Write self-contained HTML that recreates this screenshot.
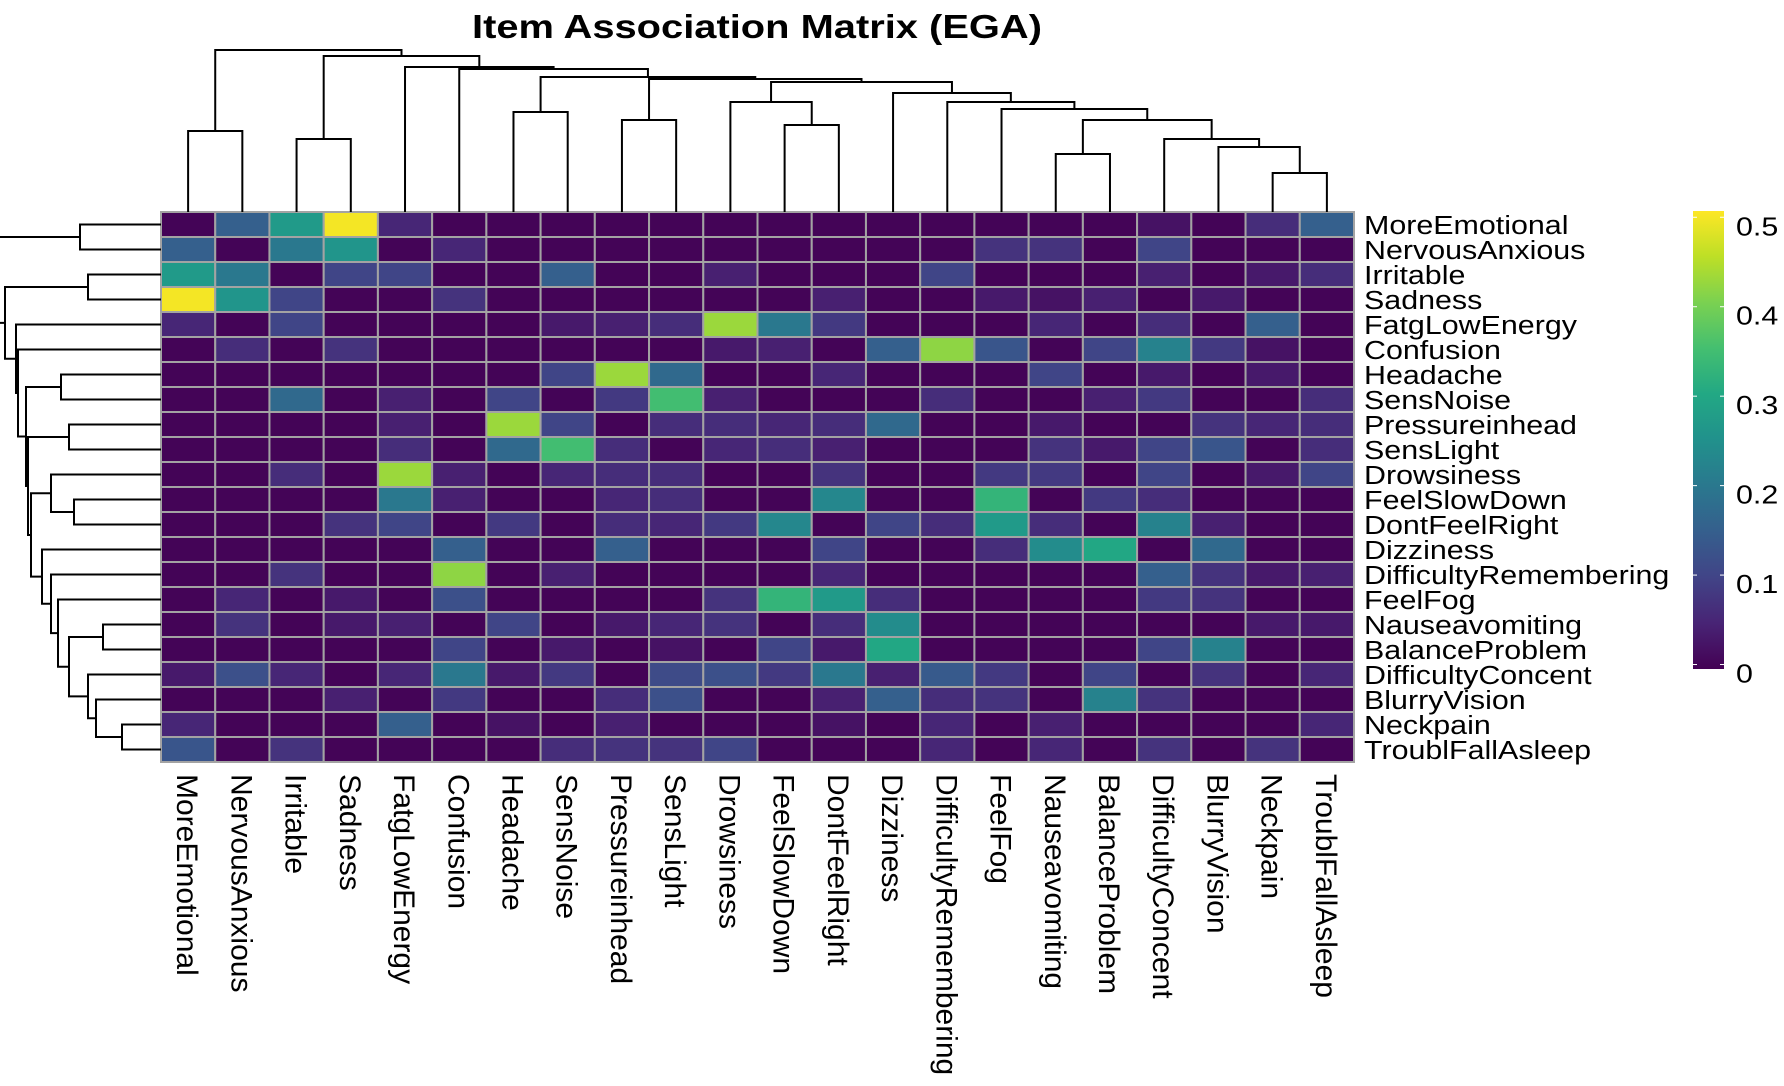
<!DOCTYPE html>
<html><head><meta charset="utf-8"><title>Item Association Matrix (EGA)</title>
<style>
html,body{margin:0;padding:0;background:#fff;}
svg{display:block;font-family:"Liberation Sans",Arial,sans-serif;}
</style></head>
<body>
<svg id="chart" width="1784" height="1086" viewBox="0 0 1784 1086" xmlns="http://www.w3.org/2000/svg">
<defs>
<linearGradient id="viridis" x1="0" y1="1" x2="0" y2="0">
<stop offset="0" stop-color="#440154"/><stop offset="0.1" stop-color="#482475"/><stop offset="0.2" stop-color="#414487"/><stop offset="0.3" stop-color="#355f8d"/><stop offset="0.4" stop-color="#2a788e"/><stop offset="0.5" stop-color="#21918c"/><stop offset="0.6" stop-color="#22a884"/><stop offset="0.7" stop-color="#44bf70"/><stop offset="0.8" stop-color="#7ad151"/><stop offset="0.9" stop-color="#bddf26"/><stop offset="1" stop-color="#fde725"/>
</linearGradient>
</defs>
<text x="757" y="38" text-anchor="middle" font-size="33" font-weight="bold" textLength="570" lengthAdjust="spacingAndGlyphs">Item Association Matrix (EGA)</text>
<g id="cells"></g>
<g id="rowlabels"></g>
<g id="collabels"></g>
<g id="topdendro" stroke="#000" stroke-width="2" fill="none"></g>
<g id="leftdendro" stroke="#000" stroke-width="2" fill="none"></g>
<g id="colorbar">
<rect x="1693" y="211" width="31" height="458" fill="url(#viridis)"/>
</g>
</svg>
<script>
const items = ["MoreEmotional","NervousAnxious","Irritable","Sadness","FatgLowEnergy","Confusion","Headache","SensNoise","Pressureinhead","SensLight","Drowsiness","FeelSlowDown","DontFeelRight","Dizziness","DifficultyRemembering","FeelFog","Nauseavomiting","BalanceProblem","DifficultyConcent","BlurryVision","Neckpain","TroublFallAsleep"];
const row0 = [0,.15,.27,.5,.05,0,0,0,0,0,0,0,0,0,0,0,0,0,.02,0,.06,.15];
const row1 = [.15,0,.2,.26,0,.05,0,0,0,0,0,0,0,0,0,.07,.07,0,.1,0,0,0];
const row2 = [.27,.2,0,.1,.1,0,0,.15,0,0,.04,0,0,0,.1,0,0,0,.04,0,.03,.06];
const row3 = [.5,.26,.1,0,0,.07,0,0,0,0,0,0,.04,0,0,.03,.02,.04,0,.03,0,0];
const row4 = [.05,0,.1,0,0,0,0,.03,.04,.06,.43,.2,.08,0,0,0,.05,0,.06,0,.15,0];
const row5 = [0,.06,0,.07,0,0,0,0,0,0,.03,.04,0,.15,.42,.13,0,.1,.22,.08,.02,0];
const row6 = [0,0,0,0,0,0,0,.1,.43,.17,0,0,.05,0,0,0,.1,0,.03,0,.03,0];
const row7 = [0,0,.17,0,.04,0,.1,0,.08,.35,.04,0,0,0,.06,0,0,.04,.08,0,0,.06];
const row8 = [0,0,0,0,.04,0,.43,.1,0,.06,.06,.05,.06,.17,0,0,.03,0,0,.07,.05,.06];
const row9 = [0,0,0,0,.06,0,.17,.35,.06,0,.05,.06,.04,0,0,0,.07,.03,.1,.13,0,.06];
const row10 = [0,0,.06,0,.43,.04,0,.05,.06,.06,0,0,.07,0,0,.08,.08,0,.1,0,.03,.1];
const row11 = [0,0,0,0,.2,.04,0,0,.05,.06,0,0,.23,0,0,.33,0,.08,.06,0,0,0];
const row12 = [0,0,0,.07,.1,0,.08,0,.06,.05,.08,.23,0,.1,.06,.27,.06,0,.22,.04,0,0];
const row13 = [0,0,0,0,0,.15,0,0,.15,0,0,0,.1,0,0,.06,.24,.3,0,.17,0,0];
const row14 = [0,0,.07,0,0,.42,0,.04,0,0,0,0,.05,0,0,0,0,0,.15,.07,.03,.04];
const row15 = [0,.05,0,.03,0,.12,0,0,0,0,.07,.33,.27,.06,0,0,0,0,.08,.07,0,0];
const row16 = [0,.07,0,.03,.04,0,.1,0,.03,.05,.07,0,.06,.24,0,0,0,0,0,0,.03,.03];
const row17 = [0,0,0,0,0,.1,0,.03,0,.02,0,.1,.03,.3,0,0,0,0,.1,.22,0,0];
const row18 = [.03,.12,.05,0,.05,.2,.03,.08,0,.11,.12,.08,.2,.04,.14,.08,0,.1,0,.07,0,.05];
const row19 = [0,0,0,.04,0,.08,0,0,.06,.12,0,0,.04,.15,.06,.07,0,.22,.07,0,0,0];
const row20 = [.05,0,0,0,.15,0,.02,0,.04,0,0,0,.02,0,.05,0,.04,0,0,0,0,.05];
const row21 = [.13,0,.07,0,0,0,0,.06,.07,.07,.1,0,0,0,.05,0,.05,0,.07,0,.07,0];
const matrix = [row0,row1,row2,row3,row4,row5,row6,row7,row8,row9,row10,row11,row12,row13,row14,row15,row16,row17,row18,row19,row20,row21];
const colorTicks = [0,0.1,0.2,0.3,0.4,0.5];
const colorTickLabels = ["0","0.1","0.2","0.3","0.4","0.5"];
const merges = [
 [0,1,81],[2,3,73],[6,7,100],[8,9,92],[11,12,87],[10,"n4",110],
 [20,21,39],[19,"n6",65],[18,"n7",73],[16,17,58],["n9","n8",92],[15,"n10",103],[14,"n11",110],[13,"n12",119],
 ["n5","n13",130],["n3","n14",133],["n2","n15",135],[5,"n16",143],[4,"n17",145],["n1","n18",156],["n0","n19",162]
];

const NS="http://www.w3.org/2000/svg";
const gx0=161, gx1=1354, gy0=212, gy1=762, n=items.length;
const cw=(gx1-gx0)/n, ch=(gy1-gy0)/n;
const vmax=0.507, vmin=-0.005;
const stops=["#440154","#482475","#414487","#355f8d","#2a788e","#21918c","#22a884","#44bf70","#7ad151","#bddf26","#fde725"];
function hex(h){return [1,3,5].map(i=>parseInt(h.substr(i,2),16));}
function viridis(v){let t=Math.max(0,Math.min(1,(v-vmin)/(vmax-vmin)))*10;let i=Math.min(9,Math.floor(t));let f=t-i;const a=hex(stops[i]),b=hex(stops[i+1]);return "rgb("+a.map((c,k)=>Math.round(c+(b[k]-c)*f)).join(",")+")";}
function xScale(i){return gx0+cw*i;}
function yScale(i){return gy0+ch*i;}
function cbY(v){return 669-(v-vmin)/(vmax-vmin)*458;}
function mk(tag,attrs,parent){const e=document.createElementNS(NS,tag);for(const k in attrs)e.setAttribute(k,attrs[k]);parent.appendChild(e);return e;}

const cells=document.getElementById('cells');
for(let r=0;r<n;r++){for(let c=0;c<n;c++){
 const e=mk('rect',{x:xScale(c),y:yScale(r),width:cw,height:ch,fill:viridis(matrix[r][c]),stroke:'#a3a3a3','stroke-width':2},cells);
 
 
}}
const rl=document.getElementById('rowlabels');
items.forEach((s,i)=>{
 const t=mk('text',{x:0,y:0,'font-size':26,transform:'translate(1364,'+(yScale(i)+ch/2+9.5)+') scale(1.17,1)'},rl);
 t.textContent=s;
 
 
});
const cl=document.getElementById('collabels');
items.forEach((s,i)=>{
 const t=mk('text',{x:0,y:0,'font-size':30,transform:'translate('+(xScale(i)+cw/2-11)+',774) rotate(90)'},cl);
 t.textContent=s;
 
 
});
const pos={},hgt={};
function getP(k){return typeof k==='number'?xScale(k)+cw/2:pos[k];}
function getH(k){return typeof k==='number'?0:hgt[k];}
const td=document.getElementById('topdendro'), ld=document.getElementById('leftdendro');
merges.forEach((m,k)=>{
 const [a,b,h]=m;
 const xa=getP(a), xb=getP(b), ha=getH(a), hb=getH(b);
 const e=mk('path',{d:'M'+xa+','+(gy0-ha)+'V'+(gy0-h)+'H'+xb+'V'+(gy0-hb)},td);
 
 
 const ya=typeof a==='number'?yScale(a)+ch/2:pos['r'+a];
 const yb=typeof b==='number'?yScale(b)+ch/2:pos['r'+b];
 const f=mk('path',{d:'M'+(gx0-ha)+','+ya+'H'+(gx0-h)+'V'+yb+'H'+(gx0-hb)},ld);
 
 
 pos['n'+k]=(xa+xb)/2; pos['rn'+k]=(ya+yb)/2; hgt['n'+k]=h;
});
const cb=document.getElementById('colorbar');
colorTicks.forEach((v,i)=>{
 const y=cbY(v);
 const l=mk('line',{x1:1693,x2:1697,y1:y,y2:y,stroke:'#fff','stroke-width':1},cb);
 
 
 const l2=mk('line',{x1:1720,x2:1724,y1:y,y2:y,stroke:'#fff','stroke-width':1},cb);
 
 
 const t=mk('text',{x:0,y:0,'font-size':26,transform:'translate(1736,'+(y+18)+') scale(1.17,1)'},cb);
 t.textContent=colorTickLabels[i];
 
 
});
</script>
</body></html>
